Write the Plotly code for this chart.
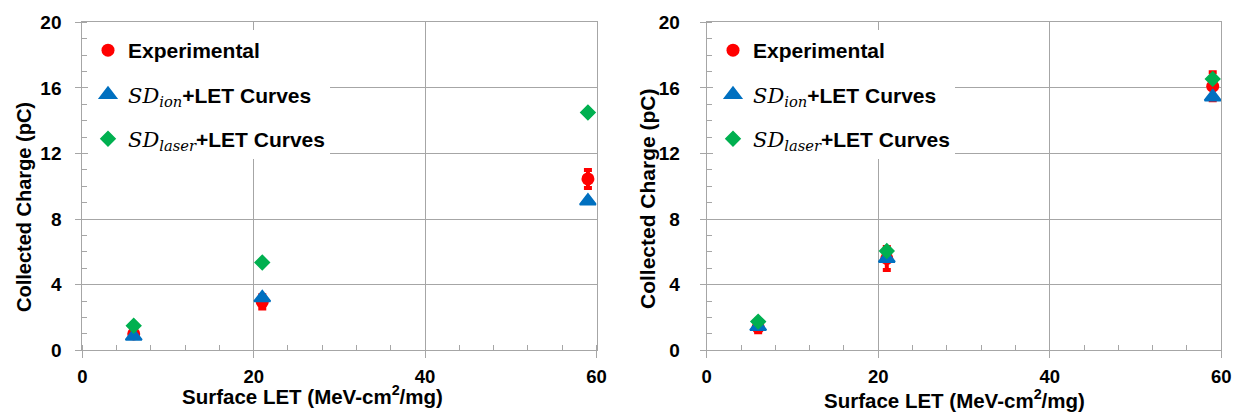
import plotly.graph_objects as go

# ---------------- data ----------------
let_x = [6, 21, 59]

# left panel
left_exp = [1.0, 2.95, 10.45]
left_exp_err = [0.2, 0.4, 0.55]
left_ion = [0.85, 3.2, 9.1]
left_laser = [1.5, 5.35, 14.5]

# right panel
right_exp = [1.4, 5.6, 16.1]
right_exp_err = [0.3, 0.7, 0.85]
right_ion = [1.45, 5.6, 15.45]
right_laser = [1.75, 6.05, 16.55]

x_ticks = [0, 20, 40, 60]
y_ticks = [0, 4, 8, 12, 16, 20]

RED = "#FF0000"
BLUE = "#0070C0"
GREEN = "#00B050"
GRID = "#A6A6A6"
FONT = "Liberation Sans, Arial, sans-serif"

SD = "<span style=\"font-family:'DejaVu Serif';font-weight:normal;font-style:italic\">SD</span>"
def sub(t):
    return ("<sub><span style=\"font-family:'DejaVu Serif';font-weight:normal;"
            "font-style:italic\">" + t + "</span></sub>")

names = ["Experimental", SD + sub("ion") + "+LET Curves", SD + sub("laser") + "+LET Curves"]

fig = go.Figure()

def add_panel(xa, ya, legend, exp, err, ion, laser):
    fig.add_trace(go.Scatter(
        x=let_x, y=exp, mode="markers", name=names[0], legend=legend,
        legendgroup=legend + "a", xaxis=xa, yaxis=ya,
        marker=dict(symbol="circle", size=13, color=RED),
        error_y=dict(type="data", array=err, color=RED, thickness=4, width=4),
    ))
    fig.add_trace(go.Scatter(
        x=let_x, y=ion, mode="markers", name=names[1], legend=legend,
        legendgroup=legend + "b", xaxis=xa, yaxis=ya,
        marker=dict(symbol="triangle-up", size=14, color=BLUE,
                    line=dict(color=BLUE, width=2)),
    ))
    fig.add_trace(go.Scatter(
        x=let_x, y=laser, mode="markers", name=names[2], legend=legend,
        legendgroup=legend + "c", xaxis=xa, yaxis=ya,
        marker=dict(symbol="diamond", size=11, color=GREEN,
                    line=dict(color=GREEN, width=1.5)),
    ))

add_panel("x", "y", "legend", left_exp, left_exp_err, left_ion, left_laser)
add_panel("x2", "y2", "legend2", right_exp, right_exp_err, right_ion, right_laser)

W, H = 1238, 413

def xaxis(dom, anchor):
    return dict(
        domain=dom, anchor=anchor, range=[0, 60], tickvals=x_ticks,
        ticktext=[str(v) for v in x_ticks],
        showgrid=True, gridcolor=GRID, gridwidth=1, zeroline=False,
        showline=True, linecolor=GRID, linewidth=1, mirror=True,
        ticks="outside", ticklen=7, tickcolor=GRID, tickwidth=1,
        minor=dict(dtick=4, tick0=0, ticks="inside", ticklen=5, tickcolor=GRID, showgrid=False),
        tickfont=dict(family=FONT, size=18.5, color="black", weight="bold"),
        ticklabelstandoff=2,
        automargin=False, fixedrange=True,
    )

def yaxis(dom, anchor, standoff):
    return dict(
        domain=dom, anchor=anchor, range=[0, 20], tickvals=y_ticks,
        ticktext=[str(v) for v in y_ticks],
        showgrid=True, gridcolor=GRID, gridwidth=1, zeroline=False,
        showline=True, linecolor=GRID, linewidth=1, mirror=True,
        ticks="outside", ticklen=6, tickcolor=GRID, tickwidth=1,
        minor=dict(dtick=1, tick0=0, ticks="inside", ticklen=5, tickcolor=GRID, showgrid=False),
        tickfont=dict(family=FONT, size=19, color="black", weight="bold"),
        ticklabelstandoff=standoff,
        automargin=False, fixedrange=True,
    )

ydom = [(H - 350.3) / H, (H - 22.3) / H]

legend_common = dict(
    bgcolor="white", borderwidth=0, traceorder="grouped", tracegroupgap=14,
    font=dict(family=FONT, size=21, color="black", weight="bold"),
    xanchor="left", yanchor="top", itemwidth=30,
)

fig.update_layout(
    width=W, height=H,
    margin=dict(l=0, r=0, t=0, b=0),
    paper_bgcolor="white", plot_bgcolor="white",
    xaxis=xaxis([82.3 / W, 596.5 / W], "y"),
    yaxis=yaxis(ydom, "x", 10),
    xaxis2=xaxis([706.7 / W, 1221.3 / W], "y2"),
    yaxis2=yaxis(ydom, "x2", 16),
    legend=dict(x=88 / W, y=(H - 30) / H, **legend_common),
    legend2=dict(x=713 / W, y=(H - 30) / H, **legend_common),
    showlegend=True,
)

def title(text, x, y, size, angle=0):
    fig.add_annotation(text=text, xref="paper", yref="paper", x=x / W, y=(H - y) / H,
                       xanchor="center", yanchor="middle", textangle=angle,
                       showarrow=False,
                       font=dict(family=FONT, size=size, color="black", weight="bold"))

title("Collected Charge (pC)", 24, 207, 20, -90)
title("Collected Charge (pC)", 647, 199, 21, -90)
title("Surface LET (MeV-cm<sup>2</sup>/mg)", 312, 395, 20.5)
title("Surface LET (MeV-cm<sup>2</sup>/mg)", 954, 399, 20.5)

fig.write_html("out.html")
